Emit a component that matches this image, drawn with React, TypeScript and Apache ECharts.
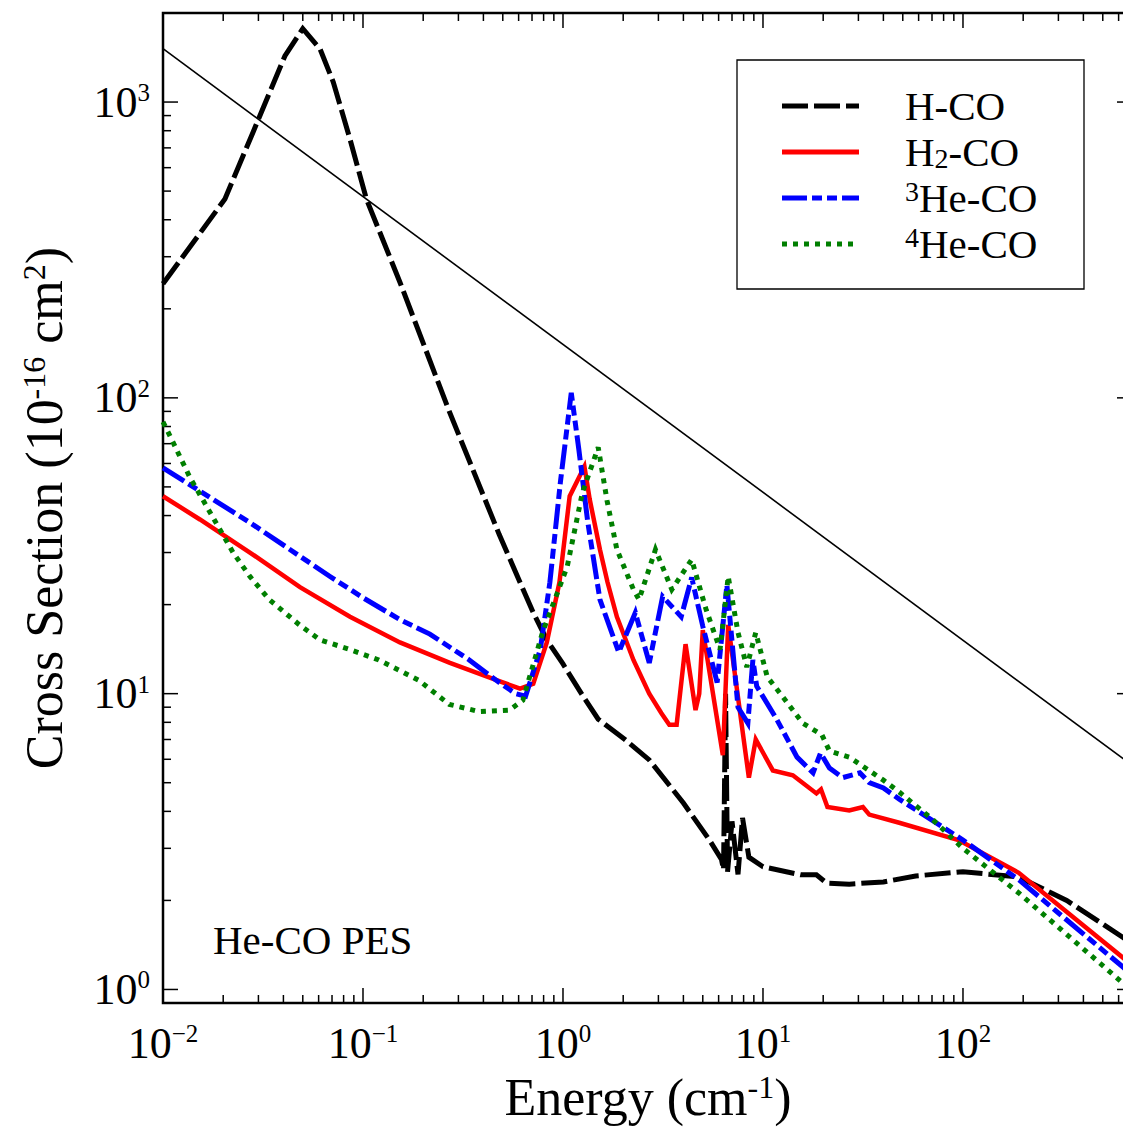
import React, { useEffect, useRef } from 'react';
import * as echarts from 'echarts';

const FONT = '"Liberation Serif", "Times New Roman", Times, serif';

// Axis ranges / tick labels
const xRange = [0.01, 700];
const yRange = [0.9, 2000];
const xMajorTicks = [0.01, 0.1, 1, 10, 100];
const xTickExponents = ['−2', '−1', '0', '1', '2'];
const yMajorTicks = [1, 10, 100, 1000];
const yTickExponents = ['0', '1', '2', '3'];
const minorMultipliers = [2, 3, 4, 5, 6, 7, 8, 9];

// Series: [energy (cm^-1), cross section (1e-16 cm^2)]
const hCO: [number, number][] = [
  [0.01, 243], [0.0204, 470], [0.0282, 791], [0.0407, 1432], [0.05, 1771], [0.061, 1512],
  [0.071, 1169], [0.086, 751], [0.104, 470], [0.153, 246], [0.27, 90], [0.48, 34.5],
  [0.71, 18.8], [0.83, 15.2], [1.0, 12.6], [1.26, 9.8], [1.5, 8.2], [2.04, 7.0], [2.7, 5.97],
  [4.0, 4.27], [5.4, 3.2], [6.2, 2.75], [6.35, 2.54], [6.5, 10.0], [6.65, 2.5], [7.0, 3.7],
  [7.5, 2.45], [7.9, 3.8], [8.5, 2.8], [10, 2.6], [15.5, 2.44], [18.5, 2.44], [20.8, 2.29],
  [27, 2.27], [40, 2.31], [58, 2.42], [100, 2.5], [190, 2.4], [330, 2.0], [631, 1.5], [700, 1.43],
];
const h2CO: [number, number][] = [
  [0.01, 46.5], [0.0153, 38.8], [0.0272, 30.0], [0.0484, 22.9], [0.0861, 18.2], [0.153, 14.9],
  [0.272, 12.7], [0.484, 11.0], [0.61, 10.4], [0.71, 10.8], [0.83, 14.9], [0.96, 23.8],
  [1.08, 46.5], [1.28, 58.6], [1.36, 45.4], [1.53, 30.7], [1.67, 23.8], [1.86, 18.2],
  [2.25, 13.0], [2.7, 10.0], [3.1, 8.6], [3.4, 7.85], [3.7, 7.85], [4.1, 14.7], [4.6, 8.8],
  [4.8, 10], [5.0, 16.4], [6.3, 6.2], [6.7, 17.1], [8.5, 5.2], [9.2, 7.0], [11.2, 5.5],
  [14.1, 5.3], [18.5, 4.6], [19.5, 4.75], [21, 4.14], [27, 4.03], [31.6, 4.14], [34, 3.9],
  [48, 3.66], [95, 3.2], [190, 2.48], [631, 1.28], [700, 1.21],
];
const he3CO: [number, number][] = [
  [0.01, 58], [0.027, 38], [0.0684, 24.9], [0.1, 21.1], [0.153, 17.8], [0.216, 15.9], [0.34, 13],
  [0.48, 10.9], [0.58, 10.0], [0.65, 9.8], [0.77, 14.1], [0.86, 23.8], [0.97, 51.7],
  [1.1, 104], [1.2, 67], [1.33, 38], [1.53, 20.8], [1.9, 13.8], [2.3, 18.8], [2.7, 12.7],
  [3.15, 21.3], [3.9, 18.2], [4.4, 24.7], [5.0, 16.9], [5.9, 10.9], [6.6, 23.3], [7.5, 9.0],
  [8.4, 7.95], [8.9, 13.0], [9.3, 10.6], [11.7, 8.2], [14.8, 6.1], [17.8, 5.4], [19.4, 6.3],
  [21.5, 5.6], [25, 5.2], [30.5, 5.4], [34, 5.0], [40, 4.8], [48, 4.4], [58, 4.05],
  [100, 3.2], [190, 2.35], [631, 1.19], [700, 1.12],
];
const he4CO: [number, number][] = [
  [0.01, 83], [0.0112, 71], [0.0136, 54], [0.0172, 41], [0.0224, 30], [0.0272, 24.9],
  [0.034, 20.8], [0.048, 17.1], [0.061, 15.2], [0.086, 14.1], [0.12, 13], [0.19, 11.1],
  [0.27, 9.2], [0.38, 8.7], [0.54, 8.8], [0.63, 9.5], [0.79, 16.1], [1.05, 26.9],
  [1.25, 47.8], [1.5, 68], [1.66, 45], [1.86, 30.7], [2.25, 22.5], [2.4, 20.8], [2.9, 30.7],
  [3.5, 22.5], [4.4, 28.4], [5.2, 19.2], [6.1, 14.1], [6.7, 24.9], [7.5, 16.1], [8.3, 12.3],
  [9.2, 16.1], [10.5, 11.4], [12.5, 9.8], [15.8, 7.95], [19.7, 7.26], [21.5, 6.4], [27, 6.1],
  [40, 5.1], [48, 4.65], [70, 3.77], [100, 3.0], [190, 2.12], [631, 1.05], [700, 0.99],
];
const refLine: [number, number][] = [[0.01, 1515], [700, 5.73]];

const legendItems = [
  { text: 'H-CO', color: '#000000', dash: [26, 6] as number[] | null },
  { text: '{n|H}{sub|2}{n|-CO}', color: '#ff0000', dash: null },
  { text: '{sup|3}{n|He-CO}', color: '#0000ff', dash: [25, 5, 10, 5, 10, 5] },
  { text: '{sup|4}{n|He-CO}', color: '#007f00', dash: [5, 6] },
];

function labelFormatter(ticks: number[], exps: string[]) {
  return (v: number) => {
    const lv = Math.log10(v);
    for (let i = 0; i < ticks.length; i++) {
      if (Math.abs(Math.log10(ticks[i]) - lv) < 1e-6) return `{b|10}{s|${exps[i]}}`;
    }
    return '';
  };
}

const labelRich = {
  b: { fontFamily: FONT, fontSize: 44, lineHeight: 44, color: '#000' },
  s: { fontFamily: FONT, fontSize: 25, lineHeight: 22, verticalAlign: 'top', color: '#000' },
};

const titleRich = {
  a: { fontFamily: FONT, fontSize: 52, lineHeight: 52, fill: '#000' },
  s: { fontFamily: FONT, fontSize: 32, lineHeight: 32, verticalAlign: 'top', fill: '#000' },
};

export default function App() {
  const ref = useRef<HTMLDivElement>(null);
  useEffect(() => {
    if (!ref.current) return;
    const chart = echarts.init(ref.current, null, { renderer: 'svg' });

    const tickData: number[][] = [];
    xMajorTicks.forEach((v) => tickData.push([v, 1, 0]));
    xMajorTicks
      .flatMap((d) => minorMultipliers.map((m) => m * d))
      .filter((v) => v < xRange[1])
      .forEach((v) => tickData.push([v, 1, 1]));
    yMajorTicks.forEach((v) => tickData.push([1, v, 2]));
    yMajorTicks
      .flatMap((d) => minorMultipliers.map((m) => m * d))
      .filter((v) => v < yRange[1])
      .forEach((v) => tickData.push([1, v, 3]));

    const lineSeries = (name: string, data: [number, number][], color: string, width: number, type: any, z: number) => ({
      name,
      type: 'line',
      data,
      symbol: 'none',
      showSymbol: false,
      smooth: false,
      silent: true,
      z,
      lineStyle: { color, width, type, cap: 'butt', join: 'miter' },
    });

    const graphics: any[] = [];
    graphics.push({
      type: 'rect',
      shape: { x: 737, y: 60, width: 347, height: 229 },
      style: { fill: '#ffffff', stroke: '#000', lineWidth: 1.3 },
      z: 100,
    });
    const legendY = [106, 152, 198, 244];
    legendItems.forEach((it, i) => {
      graphics.push({
        type: 'line',
        shape: { x1: 782, y1: legendY[i], x2: 859, y2: legendY[i] },
        style: { stroke: it.color, lineWidth: 5, lineDash: it.dash || undefined, lineCap: 'butt' },
        z: 101,
      });
      graphics.push({
        type: 'text',
        x: 905,
        y: legendY[i],
        z: 101,
        style: {
          text: it.text.indexOf('{') >= 0 ? it.text : `{n|${it.text}}`,
          fill: '#000',
          fontFamily: FONT,
          fontSize: 41,
          align: 'left',
          verticalAlign: 'middle',
          rich: {
            n: { fontFamily: FONT, fontSize: 41, lineHeight: 41, fill: '#000' },
            sub: { fontFamily: FONT, fontSize: 28, lineHeight: 25, verticalAlign: 'bottom', fill: '#000' },
            sup: { fontFamily: FONT, fontSize: 28, lineHeight: 30, verticalAlign: 'top', fill: '#000' },
          },
        },
      });
    });
    graphics.push({
      type: 'text',
      x: 213,
      y: 940,
      z: 101,
      style: { text: 'He-CO PES', fill: '#000', fontFamily: FONT, fontSize: 41, align: 'left', verticalAlign: 'middle' },
    });
    graphics.push({
      type: 'text',
      x: 648,
      y: 1097,
      z: 101,
      style: {
        text: '{a|Energy (cm}{s|-1}{a|)}',
        fill: '#000',
        fontFamily: FONT,
        fontSize: 52,
        align: 'center',
        verticalAlign: 'middle',
        rich: titleRich,
      },
    });
    graphics.push({
      type: 'text',
      x: 44,
      y: 508,
      rotation: Math.PI / 2,
      z: 101,
      style: {
        text: '{a|Cross Section (10}{s|-16}{a| cm}{s|2}{a|)}',
        fill: '#000',
        fontFamily: FONT,
        fontSize: 52,
        align: 'center',
        verticalAlign: 'middle',
        rich: titleRich,
      },
    });

    chart.setOption({
      animation: false,
      backgroundColor: '#ffffff',
      grid: {
        left: 163,
        top: 13,
        right: 8,
        bottom: 130,
        show: true,
        borderColor: '#000',
        borderWidth: 2.5,
        backgroundColor: 'rgba(0,0,0,0)',
      },
      xAxis: {
        type: 'log',
        logBase: 10,
        min: xRange[0],
        max: xRange[1],
        splitNumber: 5,
        axisLine: { show: false },
        axisTick: { show: false },
        splitLine: { show: false },
        axisLabel: {
          margin: 18,
          formatter: labelFormatter(xMajorTicks, xTickExponents),
          rich: labelRich,
          showMaxLabel: false,
        },
      },
      yAxis: {
        type: 'log',
        logBase: 10,
        min: yRange[0],
        max: yRange[1],
        splitNumber: 5,
        axisLine: { show: false },
        axisTick: { show: false },
        splitLine: { show: false },
        axisLabel: {
          margin: 13,
          formatter: labelFormatter(yMajorTicks, yTickExponents),
          rich: labelRich,
          showMinLabel: false,
        },
      },
      graphic: graphics,
      series: [
        {
          type: 'custom',
          silent: true,
          clip: false,
          z: 5,
          dimensions: ['x', 'y', 'k'],
          encode: { x: 0, y: 1 },
          data: tickData,
          renderItem: (params: any, api: any) => {
            const kind = api.value(2);
            const cs = params.coordSys;
            const len = kind % 2 === 0 ? 15 : 8;
            const style = { stroke: '#000', lineWidth: 1.5 };
            if (kind < 2) {
              const px = api.coord([api.value(0), 1])[0];
              const b = cs.y + cs.height;
              return {
                type: 'group',
                children: [
                  { type: 'line', shape: { x1: px, y1: b, x2: px, y2: b - len }, style },
                  { type: 'line', shape: { x1: px, y1: cs.y, x2: px, y2: cs.y + len }, style },
                ],
              };
            }
            const py = api.coord([1, api.value(1)])[1];
            const r = cs.x + cs.width;
            return {
              type: 'group',
              children: [
                { type: 'line', shape: { x1: cs.x, y1: py, x2: cs.x + len, y2: py }, style },
                { type: 'line', shape: { x1: r, y1: py, x2: r - len, y2: py }, style },
              ],
            };
          },
        },
        lineSeries('ref', refLine, '#000000', 1.6, 'solid', 2),
        lineSeries('H-CO', hCO, '#000000', 5, [26, 6], 3),
        lineSeries('H2-CO', h2CO, '#ff0000', 4.5, 'solid', 4),
        lineSeries('3He-CO', he3CO, '#0000ff', 5, [25, 5, 10, 5, 10, 5], 5),
        lineSeries('4He-CO', he4CO, '#007f00', 5, [5, 6], 6),
      ],
    });
    return () => chart.dispose();
  }, []);

  return (
    <div style={{ position: 'absolute', left: 0, top: 0, width: 1123, height: 1133, overflow: 'hidden', background: '#fff' }}>
      <div ref={ref} style={{ width: 1140, height: 1133 }} />
    </div>
  );
}
